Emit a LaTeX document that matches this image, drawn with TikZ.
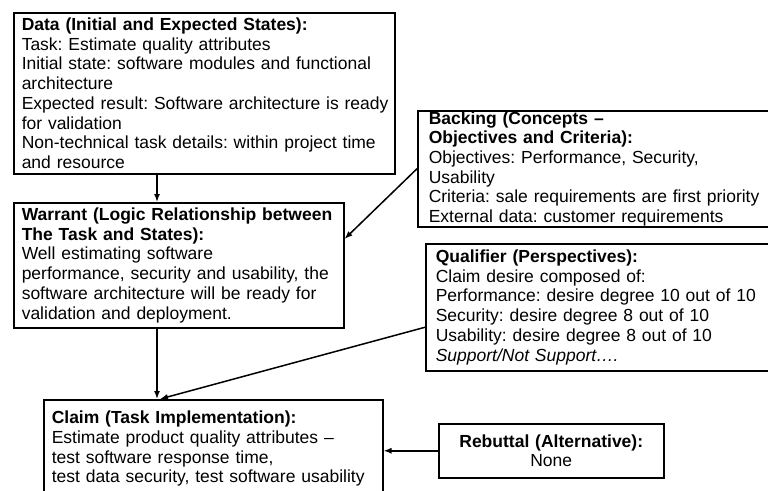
\documentclass[tikz,border=0pt]{standalone}
\usepackage{fontspec}
\setmainfont{Liberation Sans}
\usetikzlibrary{arrows.meta}
\frenchspacing

\begin{document}
\begin{tikzpicture}[x=1pt,y=-1pt]
\tikzset{part/.style={draw, line width=1.5pt, anchor=north west, align=left,
    inner xsep=8pt, inner ysep=0pt, font=\fontsize{17.5}{19.7}\selectfont},
  link/.style={-{Latex[length=8pt,width=6pt]}, line width=1.5pt}}
\useasboundingbox (0,0) rectangle (768,490);
\clip (0,0) rectangle (768,490);
\node[part, text width=365pt, minimum height=161pt] (data) at (13,12)
  {\textbf{Data (Initial and Expected States):}\\
   Task: Estimate quality attributes\\
   Initial state: software modules and functional\\
   architecture\\
   \mbox{Expected result: Software architecture is ready}\\
   for validation\\
   Non-technical task details: within project time\\
   and resource};
\node[part, text width=314pt, minimum height=125pt] (warrant) at (13,202)
  {\textbf{Warrant (Logic Relationship between}\\
   \textbf{The Task and States):}\\
   Well estimating software\\
   performance, security and usability, the\\
   software architecture will be ready for\\
   validation and deployment.};
\node[part, text width=323pt, minimum height=98pt] (claim) at (43,399)
  {\textbf{Claim (Task Implementation):}\\
   Estimate product quality attributes --\\
   test software response time,\\
   test data security, test software usability};
\node[part, text width=350pt, inner xsep=11pt, minimum height=116pt] (backing) at (417,110)
  {\textbf{Backing (Concepts --}\\
   \textbf{Objectives and Criteria):}\\
   Objectives: Performance, Security,\\
   Usability\\
   Criteria: sale requirements are first priority\\
   External data: customer requirements};
\node[part, text width=345pt, inner xsep=10pt, minimum height=127pt] (qualifier) at (425,243)
  {\textbf{Qualifier (Perspectives):}\\
   Claim desire composed of:\\
   Performance: desire degree 10 out of 10\\
   Security: desire degree 8 out of 10\\
   Usability: desire degree 8 out of 10\\
   \textit{Support/Not Support….}};
\node[part, align=center, text width=209pt, minimum height=54pt] (rebuttal) at (438,423)
  {\textbf{Rebuttal (Alternative):}\\ None};
\draw[link] ([xshift=144pt]data.south west) -- ([xshift=144pt]warrant.north west);
\draw[link] (backing.west) -- (warrant.9.5);
\draw[link] ([xshift=144pt]warrant.south west) -- ([xshift=114pt]claim.north west);
\draw[link] ([yshift=-20pt]qualifier.west) -- ([xshift=117pt]claim.north west);
\draw[link] (rebuttal.west) -- (rebuttal.west -| claim.east);
\end{tikzpicture}
\end{document}
